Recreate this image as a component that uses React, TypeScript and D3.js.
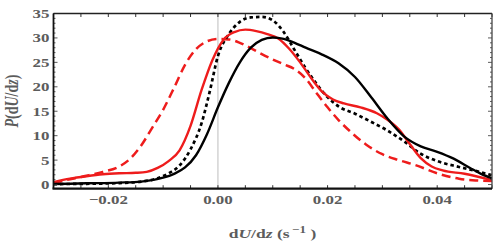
import React from "react";
import * as d3 from "d3";

// ---- data (x in s^-1, P density) ----
const blackSolidX = [-0.03, -0.024, -0.018, -0.014, -0.012, -0.01, -0.008, -0.006, -0.004, -0.002, 0.0, 0.002, 0.004, 0.006, 0.008, 0.01, 0.012, 0.014, 0.016, 0.019, 0.022, 0.025, 0.028, 0.031, 0.034, 0.037, 0.04, 0.043, 0.046, 0.048, 0.05];
const blackSolidP = [0.1, 0.25, 0.4, 0.6, 0.9, 1.4, 2.2, 3.5, 6.0, 10.3, 15.8, 20.8, 25.0, 28.0, 29.6, 30.1, 29.8, 29.0, 28.0, 26.6, 24.8, 22.0, 17.8, 13.4, 9.8, 7.8, 6.7, 5.3, 3.4, 2.2, 1.3];

const blackDotX = [-0.03, -0.024, -0.018, -0.014, -0.011, -0.009, -0.007, -0.005, -0.003, -0.0015, 0.0, 0.002, 0.004, 0.006, 0.008, 0.01, 0.012, 0.014, 0.016, 0.018, 0.02, 0.022, 0.025, 0.028, 0.031, 0.034, 0.037, 0.04, 0.044, 0.047, 0.05];
const blackDotP = [0.1, 0.15, 0.3, 0.6, 1.3, 2.3, 3.9, 7.2, 12.5, 19.0, 26.3, 30.8, 33.3, 34.2, 34.3, 33.6, 31.2, 27.5, 23.8, 20.6, 17.9, 16.0, 14.5, 12.8, 11.0, 8.8, 6.3, 4.8, 3.6, 2.8, 1.9];

const redSolidX = [-0.03, -0.027, -0.024, -0.021, -0.018, -0.015, -0.013, -0.011, -0.009, -0.007, -0.005, -0.003, -0.001, 0.001, 0.003, 0.005, 0.007, 0.009, 0.011, 0.013, 0.015, 0.017, 0.019, 0.021, 0.023, 0.026, 0.029, 0.031, 0.033, 0.035, 0.037, 0.039, 0.041, 0.045, 0.05];
const redSolidP = [0.5, 1.2, 1.7, 2.1, 2.3, 2.4, 2.6, 3.4, 4.8, 7.0, 12.0, 19.3, 25.5, 29.6, 31.2, 31.7, 31.4, 30.8, 29.9, 27.8, 25.0, 21.8, 19.0, 17.4, 16.6, 15.8, 14.6, 13.2, 11.3, 8.3, 5.4, 3.7, 2.9, 2.2, 0.9];

const redDashX = [-0.03, -0.027, -0.024, -0.021, -0.018, -0.016, -0.014, -0.012, -0.01, -0.008, -0.006, -0.004, -0.002, 0.0, 0.002, 0.004, 0.006, 0.008, 0.01, 0.012, 0.014, 0.016, 0.018, 0.02, 0.022, 0.024, 0.027, 0.03, 0.033, 0.036, 0.04, 0.044, 0.047, 0.05];
const redDashP = [0.3, 1.1, 1.8, 2.6, 3.7, 5.3, 8.0, 11.6, 15.3, 19.8, 24.5, 27.7, 29.3, 29.8, 29.7, 29.0, 27.9, 26.7, 25.6, 24.6, 23.6, 21.7, 18.7, 15.8, 13.2, 11.0, 8.2, 6.2, 5.0, 4.0, 2.3, 1.2, 0.85, 0.7];

const xTickLabels = [-0.02, 0.0, 0.02, 0.04];
const yTickLabels = [0, 5, 10, 15, 20, 25, 30, 35];

const W = 500, H = 247;
const L = 53.5, R = 492, T = 13.5, B = 188.7;

const x = d3.scaleLinear().domain([-0.03, 0.05]).range([L, R]);
const y = d3.scaleLinear().domain([-0.85, 35]).range([B, T]);

const zip = (xs: number[], ps: number[]) => xs.map((v, i) => [v, ps[i]] as [number, number]);
const line = d3
  .line<[number, number]>()
  .x((d) => x(d[0]))
  .y((d) => y(d[1]))
  .curve(d3.curveMonotoneX);

const series = [
  { data: zip(redDashX, redDashP), color: "#ee1c1c", dash: "9,5", w: 2.5 },
  { data: zip(blackDotX, blackDotP), color: "#000", dash: "3.5,3", w: 2.7 },
  { data: zip(redSolidX, redSolidP), color: "#ee1c1c", dash: undefined, w: 2.4 },
  { data: zip(blackSolidX, blackSolidP), color: "#000", dash: undefined, w: 2.4 },
];

const FONT = "'Liberation Serif', 'Times New Roman', serif";
const TXT = "#5c5c5c";
const SX = 1.3;

export default function App() {
  const xMinor = d3.range(0, 17).map((i) => -0.03 + i * 0.005);
  const yMinor = d3.range(0, 36);
  const fmt = (v: number) => (v < 0 ? "\u2212" : "") + Math.abs(v).toFixed(2);
  return (
    <svg width={W} height={H} style={{ display: "block", position: "absolute", left: 0, top: 0, background: "#fff" }}>
      <defs>
        <clipPath id="clip">
          <rect x={L} y={T} width={R - L} height={B - T} />
        </clipPath>
      </defs>
      <line x1={x(0)} x2={x(0)} y1={T} y2={B} stroke="#bdbdbd" strokeWidth={1} />
      <g clipPath="url(#clip)">
        {series.map((s, i) => (
          <path key={i} d={line(s.data) || ""} fill="none" stroke={s.color} strokeWidth={s.w} strokeDasharray={s.dash} />
        ))}
      </g>
      {xMinor.map((v, i) => (
        <g key={"xt" + i}>
          <line x1={x(v)} x2={x(v)} y1={B} y2={B - 3.5} stroke="#333" strokeWidth={1} />
          <line x1={x(v)} x2={x(v)} y1={T} y2={T + 3.5} stroke="#333" strokeWidth={1} />
        </g>
      ))}
      {yMinor.map((v) => {
        const len = v % 5 === 0 ? 4 : 2;
        return (
          <g key={"yt" + v}>
            <line x1={L} x2={L + len} y1={y(v)} y2={y(v)} stroke="#333" strokeWidth={0.8} />
            <line x1={R} x2={R - len} y1={y(v)} y2={y(v)} stroke="#333" strokeWidth={0.8} />
          </g>
        );
      })}
      <line x1={L} x2={R} y1={T} y2={T} stroke="#222" strokeWidth={1.3} />
      <line x1={R} x2={R} y1={T} y2={B} stroke="#444" strokeWidth={1.3} />
      <line x1={L} x2={L} y1={T} y2={B} stroke="#111" strokeWidth={1.8} />
      <line x1={L - 1} x2={R} y1={B} y2={B} stroke="#111" strokeWidth={2.2} />
      {xTickLabels.map((v) => (
        <text
          key={"xl" + v}
          transform={`translate(${x(v)},204) scale(${SX},1)`}
          textAnchor="middle"
          fontFamily={FONT}
          fontWeight="bold"
          fontSize={13}
          fill={TXT}
        >
          {fmt(v)}
        </text>
      ))}
      {yTickLabels.map((v) => (
        <text
          key={"yl" + v}
          transform={`translate(49.5,${y(v) + 4.4}) scale(${SX},1)`}
          textAnchor="end"
          fontFamily={FONT}
          fontWeight="bold"
          fontSize={13}
          fill={TXT}
        >
          {v}
        </text>
      ))}
      <text
        transform={`translate(272.5,238.3) scale(${SX},1)`}
        textAnchor="middle"
        fontFamily={FONT}
        fontWeight="bold"
        fontSize={13.5}
        fill={TXT}
      >
        d<tspan fontStyle="italic">U</tspan>/d<tspan fontStyle="italic">z</tspan> (s
        <tspan dy={-5} fontSize={10}>{"\u2009\u22121"}</tspan>
        <tspan dy={5}> )</tspan>
      </text>
      <text
        transform={`translate(17.5,${(T + B) / 2}) scale(${SX},1) rotate(-90)`}
        textAnchor="middle"
        fontFamily={FONT}
        fontWeight="bold"
        fontSize={14}
        fill={TXT}
      >
        <tspan fontStyle="italic">P</tspan>(d<tspan fontStyle="italic">U</tspan>/d<tspan fontStyle="italic">z</tspan>)
      </text>
    </svg>
  );
}
